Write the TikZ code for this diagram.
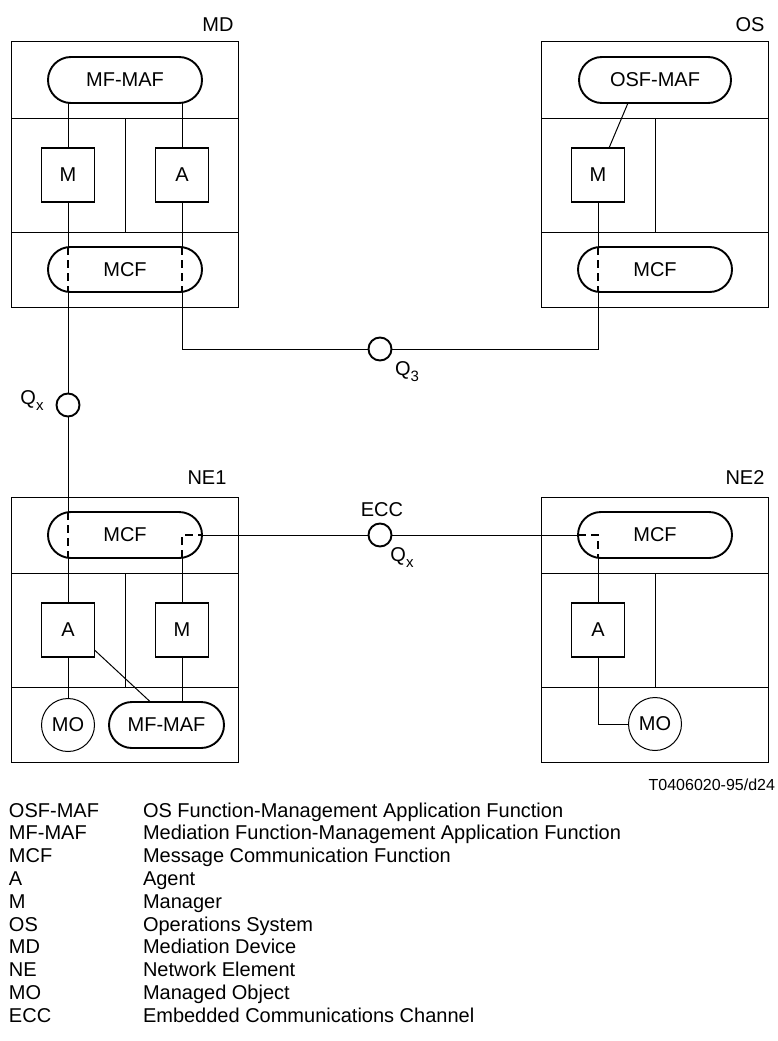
\documentclass[tikz,border=0pt]{standalone}
\usepackage{fontspec}
\setmainfont{Liberation Sans}
\usetikzlibrary{shapes.misc}
\newcommand{\sbs}[1]{\raisebox{-6pt}{\fontsize{15}{15}\selectfont #1}}
\begin{document}
\begin{tikzpicture}[x=1pt,y=-1pt,
  every node/.style={font=\fontsize{20}{24}\selectfont, inner sep=0pt, outer sep=0pt},
  frame/.style={draw, line width=1pt, minimum width=227pt, minimum height=265pt},
  part/.style={line width=1pt},
  pill/.style={draw, rounded rectangle, line width=1.9pt, minimum width=154pt, minimum height=46pt},
  sq/.style={draw, rectangle, line width=1.9pt, minimum width=53pt, minimum height=54pt},
  port/.style={draw, circle, line width=1.9pt, minimum size=23pt},
  mo/.style={draw, circle, line width=1pt, minimum size=53pt},
  link/.style={line width=1pt},
  inner/.style={line width=2.6pt, dash pattern=on 8pt off 5pt},
  legend/.style={anchor=base west}
]
\useasboundingbox (0,0) rectangle (777,1041);

% ---------- frames ----------
\node[frame] (mdbox) at (124.5,174.5) {};
\node[frame] (osbox) at (654.5,174.5) {};
\node[frame] (ne1box) at (124.5,629.5) {};
\node[frame] (ne2box) at (654.5,629.5) {};

\draw[part] (mdbox.west |- 0,118) -- (mdbox.east |- 0,118);
\draw[part] (mdbox.west |- 0,232) -- (mdbox.east |- 0,232);
\draw[part] (125,118) -- (125,232);
\draw[part] (osbox.west |- 0,118) -- (osbox.east |- 0,118);
\draw[part] (osbox.west |- 0,232) -- (osbox.east |- 0,232);
\draw[part] (655,118) -- (655,232);
\draw[part] (ne1box.west |- 0,573) -- (ne1box.east |- 0,573);
\draw[part] (ne1box.west |- 0,687) -- (ne1box.east |- 0,687);
\draw[part] (125,573) -- (125,687);
\draw[part] (ne2box.west |- 0,573) -- (ne2box.east |- 0,573);
\draw[part] (ne2box.west |- 0,687) -- (ne2box.east |- 0,687);
\draw[part] (655,573) -- (655,687);

% ---------- frame labels ----------
\node (mdlbl) at (218,25) {MD};
\node (oslbl) at (750,25) {OS};
\node (ne1lbl) at (207,478) {NE1};
\node (ne2lbl) at (745,478) {NE2};

% ---------- MD ----------
\node[pill] (mdmaf) at (125,80) {MF-MAF};
\node[sq] (mdM) at (68,175) {M};
\node[sq] (mdA) at (182,175) {A};
\node[pill, minimum height=45pt] (mdmcf) at (125,269.5) {MCF};

% ---------- OS ----------
\node[pill, minimum width=152pt] (osmaf) at (655,80) {OSF-MAF};
\node[sq] (osM) at (598,175) {M};
\node[pill, minimum height=45pt] (osmcf) at (655,269.5) {MCF};

% ---------- NE1 ----------
\node[pill] (ne1mcf) at (125,535) {MCF};
\node[sq] (ne1A) at (68,630) {A};
\node[sq] (ne1M) at (182,630) {M};
\node[mo] (ne1mo) at (68,725) {MO};
\node[pill, minimum width=115pt] (ne1maf) at (166.5,725) {MF-MAF};

% ---------- NE2 ----------
\node[pill] (ne2mcf) at (655,535) {MCF};
\node[sq] (ne2A) at (598,630) {A};
\node[mo] (ne2mo) at (655,724) {MO};

% ---------- ports ----------
\node[port] (q3) at (380,349) {};
\node[port] (qxl) at (68,405) {};
\node[port] (ecc) at (380,535) {};
\node (q3lbl) at (407,372) {Q\sbs{3}};
\node (qxllbl) at (32,401) {Q\sbs{x}};
\node (ecclbl) at (382,510) {ECC};
\node (qxrlbl) at (402,558) {Q\sbs{x}};

% ---------- MD links ----------
\draw[link] (mdM.north) -- (mdM.north |- mdmaf.south);
\draw[link] (mdA.north) -- (mdA.north |- mdmaf.south);
\draw[link] (mdM.south) -- (mdM.south |- mdmcf.north);
\draw[link] (mdA.south) -- (mdA.south |- mdmcf.north);
\draw[inner] (mdM.south |- mdmcf.north) -- (mdM.south |- mdmcf.south);
\draw[inner] (mdA.south |- mdmcf.north) -- (mdA.south |- mdmcf.south);
\draw[link] (mdM.south |- mdmcf.south) -- (qxl.north);
\draw[link] (mdA.south |- mdmcf.south) -- (mdA.south |- q3.west) -- (q3.west);

% ---------- OS links ----------
\draw[link] ([xshift=11pt]osM.north) -- ([xshift=-27pt]osmaf.south);
\draw[link] (osM.south) -- (osM.south |- osmcf.north);
\draw[inner] (osM.south |- osmcf.north) -- (osM.south |- osmcf.south);
\draw[link] (q3.east) -- (osM.south |- q3.east) -- (osM.south |- osmcf.south);

% ---------- NE1 links ----------
\draw[link] (qxl.south) -- (qxl.south |- ne1mcf.north);
\draw[inner] (ne1A.north |- ne1mcf.north) -- (ne1A.north |- ne1mcf.south);
\draw[link] (ne1A.north |- ne1mcf.south) -- (ne1A.north);
\draw[link] (ne1A.south) -- (ne1mo.north);
\draw[inner] (ne1M.north |- ne1mcf.south) -- (ne1M.north |- ne1mcf.east) -- (ne1mcf.east);
\draw[link] (ne1M.north |- ne1mcf.south) -- (ne1M.north);
\draw[link] (ne1M.south) -- (ne1M.south |- ne1maf.north);
\draw[link] ([yshift=7pt]ne1A.south east) -- ([xshift=-16pt]ne1maf.north);
\draw[link] (ne1mcf.east) -- (ecc.west);
\draw[link] (ecc.east) -- (ne2mcf.west);

% ---------- NE2 links ----------
\draw[inner] (ne2mcf.west) -- (ne2A.north |- ne2mcf.west) -- (ne2A.north |- ne2mcf.south);
\draw[link] (ne2A.north |- ne2mcf.south) -- (ne2A.north);
\draw[link] (ne2A.south) -- (ne2A.south |- ne2mo.west) -- (ne2mo.west);

% ---------- figure id ----------
\node[anchor=east, font=\fontsize{16}{19}\selectfont] (figid) at (775,785) {T0406020-95/d24};

% ---------- legend ----------
\node[legend] (k1) at (9,817) {OSF-MAF};
\node[legend] (v1) at (143,817) {OS Function-Management Application Function};
\node[legend] (k2) at (9,839.8) {MF-MAF};
\node[legend] (v2) at (143,839.8) {Mediation Function-Management Application Function};
\node[legend] (k3) at (9,862.6) {MCF};
\node[legend] (v3) at (143,862.6) {Message Communication Function};
\node[legend] (k4) at (9,885.4) {A};
\node[legend] (v4) at (143,885.4) {Agent};
\node[legend] (k5) at (9,908.2) {M};
\node[legend] (v5) at (143,908.2) {Manager};
\node[legend] (k6) at (9,931) {OS};
\node[legend] (v6) at (143,931) {Operations System};
\node[legend] (k7) at (9,953.8) {MD};
\node[legend] (v7) at (143,953.8) {Mediation Device};
\node[legend] (k8) at (9,976.6) {NE};
\node[legend] (v8) at (143,976.6) {Network Element};
\node[legend] (k9) at (9,999.4) {MO};
\node[legend] (v9) at (143,999.4) {Managed Object};
\node[legend] (k10) at (9,1022.2) {ECC};
\node[legend] (v10) at (143,1022.2) {Embedded Communications Channel};
\end{tikzpicture}
\end{document}
